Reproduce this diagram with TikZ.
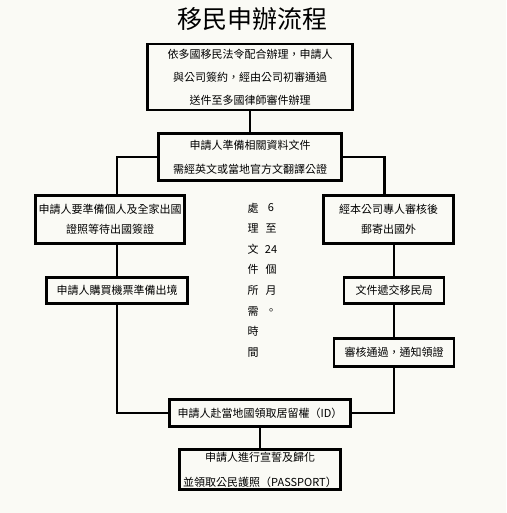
\documentclass[tikz,border=0pt]{standalone}
\usepackage{fontspec}
\newfontfamily\cjk{Noto Sans CJK TC}
\usetikzlibrary{positioning}
\definecolor{paper}{RGB}{250,250,245}

\begin{document}
\begin{tikzpicture}[x=1pt,y=-1pt,line width=2.6pt,
  every node/.style={font=\cjk\fontsize{11}{23}\selectfont,inner sep=0pt,outer sep=0pt,align=center},
  box/.style={draw}]
  \fill[paper] (0,0) rectangle (506,513);
  \node (title) at (252,19) {\fontsize{25}{25}\selectfont 移民申辦流程};
  \node[box,minimum width=205pt,minimum height=66pt] (b1) at (250,77) {依多國移民法令配合辦理，申請人\\與公司簽約，經由公司初審通過\\送件至多國律師審件辦理};
  \node[box,minimum width=183pt,minimum height=47pt,font=\cjk\fontsize{11}{24}\selectfont] (b2) at (250,157) {申請人準備相關資料文件\\需經英文或當地官方文翻譯公證};
  \node[box,minimum width=149pt,minimum height=48pt,font=\cjk\fontsize{11}{20}\selectfont] (b3) at (110,219.5) {申請人要準備個人及全家出國\\證照等待出國簽證};
  \node[box,minimum width=141pt,minimum height=26pt] (b4) at (117,290.5) {申請人購買機票準備出境};
  \node[box,minimum width=130pt,minimum height=48pt,font=\cjk\fontsize{11}{20}\selectfont] (b5) at (388.5,219.5) {經本公司專人審核後\\郵寄出國外};
  \node[box,minimum width=100pt,minimum height=26pt] (b6) at (394,290.5) {文件遞交移民局};
  \node[box,minimum width=120pt,minimum height=28pt] (b7) at (394,352.5) {審核通過，通知領證};
  \node[box,minimum width=181pt,minimum height=27pt] (b8) at (260,413) {申請人赴當地國領取居留權（ID）};
  \node[box,minimum width=161pt,minimum height=40pt,font=\cjk\fontsize{11}{25}\selectfont] (b9) at (260,469.5) {申請人進行宣誓及歸化\\並領取公民護照（PASSPORT）};
  % processing time
  \node[font=\cjk\fontsize{11}{20.6}\selectfont] (tl) at (253,280) {處\\理\\文\\件\\所\\需\\時\\間};
  \node[font=\cjk\fontsize{11}{20.6}\selectfont] (tr) at (271,259.5) {6\\至\\24\\個\\月\\。};
  % connectors
  \draw (b1) -- (b2);
  \draw (b2.west) -| (b4.north |- b3.north);
  \draw (b3.south -| b4.north) -- (b4);
  \draw (b4.south) |- (b8.west);
  \draw (b2.east) -| ([xshift=-4pt]b5.north);
  \draw (b5.south -| b6.north) -- (b6);
  \draw (b6) -- (b7);
  \draw (b7.south) |- (b8.east);
  \draw (b8) -- (b9);
\end{tikzpicture}
\end{document}
